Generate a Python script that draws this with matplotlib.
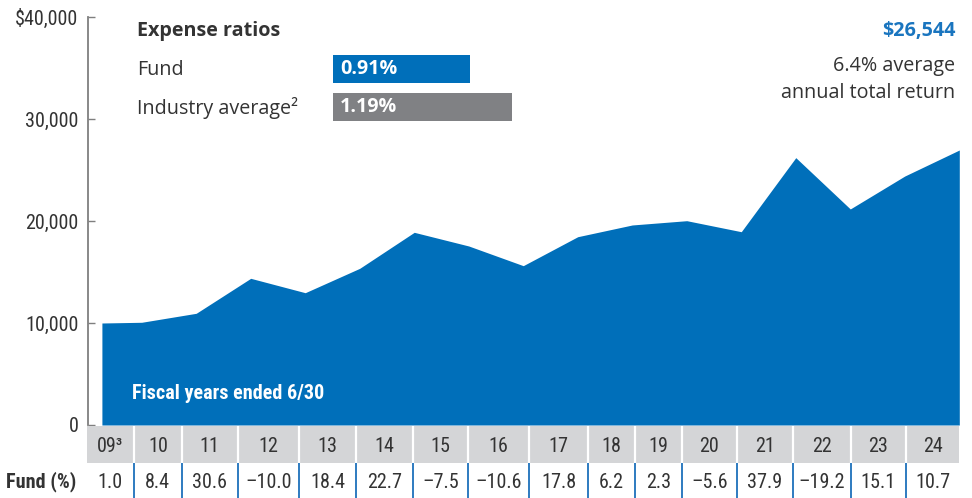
import matplotlib
matplotlib.use("Agg")
import matplotlib.pyplot as plt
from matplotlib.patches import Rectangle

# ---------------- data ----------------
inception = 2008.27                      # start of the line (partial first fiscal year)
fiscal_year_ends = list(range(2009, 2025))
values = [10000, 10070, 10950, 14380, 12970, 15360, 18890, 17550, 15620,
          18460, 19610, 20030, 18950, 26210, 21180, 24410, 26960]
year_labels = ["09³", "10", "11", "12", "13", "14", "15", "16", "17", "18",
               "19", "20", "21", "22", "23", "24"]
fund_returns = [1.0, 8.4, 30.6, -10.0, 18.4, 22.7, -7.5, -10.6, 17.8, 6.2,
                2.3, -5.6, 37.9, -19.2, 15.1, 10.7]
expense_labels = ["Fund", "Industry average²"]
expense_values = [0.91, 1.19]
y_ticks = [0, 10000, 20000, 30000, 40000]
y_tick_labels = ["0", "10,000", "20,000", "30,000", "$40,000"]
ending_value = "$26,544"
avg_return_text = ["6.4% average", "annual total return"]

# ---------------- style ----------------
BLUE = "#006FBA"
GRAY_BAR = "#808184"
HEAD_GRAY = "#D4D5D7"
TXT = "#333333"
MAIN_FONT = ["Open Sans", "DejaVu Sans"]
NARROW = ["Roboto Condensed", "DejaVu Sans"]
MAIN_SIZE = 14.2

W, H = 972, 498
fig = plt.figure(figsize=(W / 100, H / 100), dpi=100)
fx = lambda px: px / W
fy = lambda py: 1 - py / H

# layout (pixel) constants
AX_L, AX_R, AX_T, AX_B = 88.3, 960.0, 17.0, 425.0
X2009_PX, YEAR_PX = 141.7, 54.51
col_edges = [86.7, 134, 181.7, 237.7, 299, 356, 413.3, 468.3, 529.3, 588.3,
             635, 681.7, 736.7, 792.7, 851, 905.7, 959.3]

# ---------------- main area chart ----------------
ax = fig.add_axes([fx(AX_L), fy(AX_B), fx(AX_R) - fx(AX_L), fy(AX_T) - fy(AX_B)])
xs = [inception] + fiscal_year_ends
ax.fill_between(xs, values, 0, color=BLUE, lw=0)
ax.set_xlim(2009 - (X2009_PX - AX_L) / YEAR_PX, 2024 + (AX_R - 959.3) / YEAR_PX)
ax.set_ylim(0, 40000)
ax.set_yticks(y_ticks)
ax.set_yticklabels(y_tick_labels, family=NARROW, fontsize=14.5, color=TXT)
ax.set_xticks([])
for s in ["top", "right", "bottom"]:
    ax.spines[s].set_visible(False)
ax.spines["left"].set_color("#7F7F7F")
ax.spines["left"].set_linewidth(1.3)
ax.tick_params(axis="y", direction="in", length=5, width=1, color="#7F7F7F", pad=7)
ax.patch.set_alpha(0)

ax.text(fx(132), fy(393), "Fiscal years ended 6/30", transform=fig.transFigure,
        family=NARROW, fontweight="bold", fontsize=14.5, color="white",
        va="center", ha="left")

# ---------------- table ----------------
tax = fig.add_axes([0, 0, 1, fy(426)])
tax.set_xlim(0, W)
tax.set_ylim(H, 426)
tax.axis("off")
tax.add_patch(Rectangle((col_edges[0], 426), col_edges[-1] - col_edges[0], 37.3,
                        facecolor=HEAD_GRAY, lw=0))
for e in col_edges[1:-1]:
    tax.plot([e, e], [426, 463.3], color="white", lw=1.6, solid_capstyle="butt")
    tax.plot([e, e], [463.3, H], color="#2E7BC0", lw=1.4, solid_capstyle="butt")
for i, (lab, r) in enumerate(zip(year_labels, fund_returns)):
    cx = (col_edges[i] + col_edges[i + 1]) / 2
    tax.text(cx, 446, lab, family=NARROW, fontsize=14.5, color=TXT,
             ha="center", va="center")
    tax.text(cx, 482, f"{r:.1f}".replace("-", "–"), family=NARROW, fontsize=14.5,
             color=TXT, ha="center", va="center")
tax.text(6, 482, "Fund (%)", family=NARROW, fontsize=14.5, fontweight="bold",
         color=TXT, ha="left", va="center")

# ---------------- expense ratios ----------------
fig.text(fx(137), fy(31), "Expense ratios", family=MAIN_FONT, fontweight="bold",
         fontsize=MAIN_SIZE, color=TXT, va="center", ha="left")
label_y = [70, 108]
for lab, py in zip(expense_labels, label_y):
    fig.text(fx(137), fy(py), lab, family=MAIN_FONT, fontsize=MAIN_SIZE, color=TXT,
             va="center", ha="left")

eax = fig.add_axes([fx(333), fy(121), fx(512) - fx(333), fy(55) - fy(121)])
eax.barh([0, 1], expense_values, height=0.737, color=[BLUE, GRAY_BAR], lw=0)
eax.set_xlim(0, max(expense_values))
eax.set_ylim(1.368, -0.368)
eax.axis("off")
for i, v in enumerate(expense_values):
    eax.annotate(f"{v:.2f}%", xy=(0, i), xytext=(5, 0), textcoords="offset points",
                 family=MAIN_FONT, fontweight="bold", fontsize=MAIN_SIZE, color="white",
                 va="center", ha="left")

# ---------------- ending value ----------------
fig.text(fx(955), fy(31), ending_value, family=MAIN_FONT, fontweight="bold",
         fontsize=MAIN_SIZE, color="#1A75BF", ha="right", va="center")
for t, py in zip(avg_return_text, [66, 93]):
    fig.text(fx(955), fy(py), t, family=MAIN_FONT, fontsize=MAIN_SIZE, color=TXT,
             ha="right", va="center")

fig.savefig("out.png", dpi=100)
